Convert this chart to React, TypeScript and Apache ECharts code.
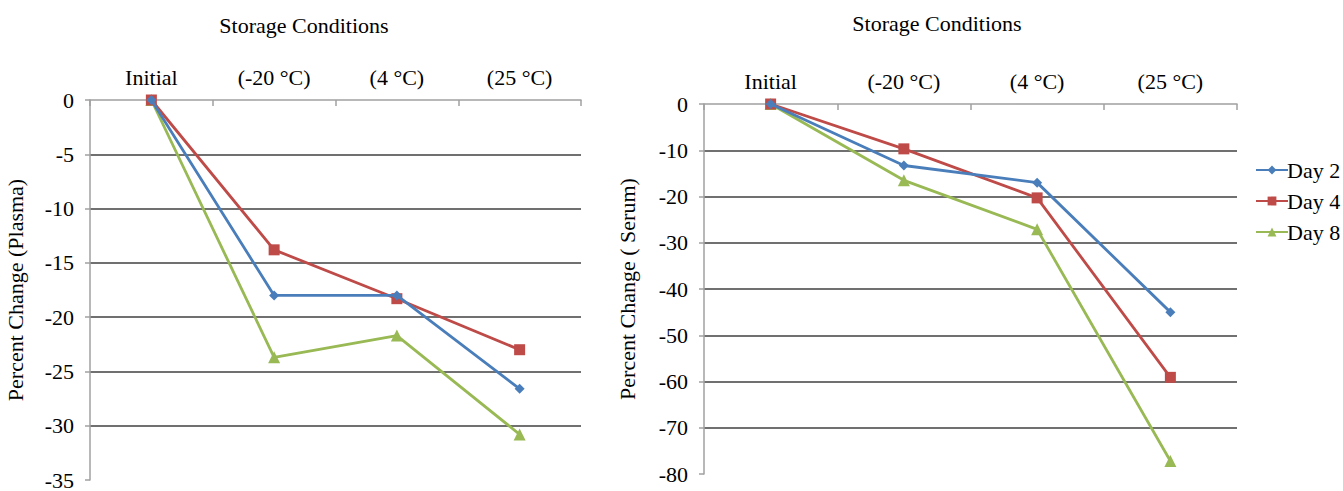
import React, { useEffect, useRef } from "react";
import * as echarts from "echarts";

const categories = ["Initial", "(-20 °C)", "(4 °C)", "(25 °C)"];
const seriesNames = ["Day 2", "Day 4", "Day 8"];
const plasmaDay2 = [0, -18, -18, -26.6];
const plasmaDay4 = [0, -13.8, -18.3, -23];
const plasmaDay8 = [0, -23.7, -21.7, -30.8];
const serumDay2 = [0, -13.3, -17, -45];
const serumDay4 = [0, -9.7, -20.3, -59.1];
const serumDay8 = [0, -16.5, -27.1, -77.2];

const colors = ["#4a7ebb", "#be4b48", "#98b954"];
const symbols = ["diamond", "rect", "triangle"];
const symbolSizes = [10, 11, 12];
const FONT = "Liberation Serif";

export default function App() {
  const ref = useRef<HTMLDivElement>(null);
  useEffect(() => {
    if (!ref.current) return;
    const chart = echarts.init(ref.current, null, { renderer: "svg" });
    const textStyle = { fontFamily: FONT, fontSize: 22, color: "#000" };
    const mkX = (gridIndex: number) => ({
      type: "category",
      gridIndex,
      data: categories,
      position: "top",
      boundaryGap: true,
      axisLine: { show: true, onZero: false, lineStyle: { color: "#a0a0a0", width: 1.5 } },
      axisTick: { show: true, inside: true, length: 6, lineStyle: { color: "#a0a0a0", width: 1.5 } },
      axisLabel: { ...textStyle, margin: 12 },
      splitLine: { show: false },
    });
    const mkY = (gridIndex: number, min: number, interval: number, name: string, nameGap: number) => ({
      type: "value",
      gridIndex,
      min,
      max: 0,
      interval,
      name,
      nameLocation: "middle",
      nameRotate: 90,
      nameGap,
      nameTextStyle: { ...textStyle },
      axisLine: { show: true, lineStyle: { color: "#a0a0a0", width: 1.5 } },
      axisTick: { show: true, length: 5, lineStyle: { color: "#a0a0a0", width: 1.5 } },
      axisLabel: { ...textStyle, margin: 16 },
      splitLine: { show: true, showMinLine: false, showMaxLine: false, lineStyle: { color: "#404040", width: 1.5 } },
    });
    const plasma = [plasmaDay2, plasmaDay4, plasmaDay8];
    const serum = [serumDay2, serumDay4, serumDay8];
    const mkSeries = (data: number[][], idx: number) =>
      data.map((d, i) => ({
        type: "line",
        name: seriesNames[i],
        xAxisIndex: idx,
        yAxisIndex: idx,
        data: d,
        symbol: symbols[i],
        symbolSize: symbolSizes[i],
        itemStyle: { color: colors[i] },
        lineStyle: { color: colors[i], width: 2.8 },
        z: 3 - i + 2,
      }));
    chart.setOption({
      animation: false,
      backgroundColor: "#fff",
      title: [
        { text: "Storage Conditions", left: 299, top: 9, textAlign: "center", textStyle: { ...textStyle, fontWeight: "normal" } },
        { text: "Storage Conditions", left: 932, top: 7, textAlign: "center", textStyle: { ...textStyle, fontWeight: "normal" } },
      ],
      legend: {
        orient: "vertical",
        left: 1250,
        top: 154,
        itemGap: 9,
        itemWidth: 32,
        itemHeight: 11,
        data: seriesNames,
        textStyle: { ...textStyle, padding: [0, 0, 0, -6] },
      },
      grid: [
        { left: 90, top: 100, width: 491, height: 385 },
        { left: 704, top: 104, width: 533, height: 370 },
      ],
      xAxis: [mkX(0), mkX(1)],
      yAxis: [
        mkY(0, -35, 5, "Percent Change (Plasma)", 64),
        mkY(1, -80, 10, "Percent Change ( Serum)", 66),
      ],
      series: [...mkSeries(plasma, 0), ...mkSeries(serum, 1)],
    });
    return () => chart.dispose();
  }, []);
  return <div ref={ref} style={{ position: "fixed", left: 0, top: 0, width: 1343, height: 491 }} />;
}
